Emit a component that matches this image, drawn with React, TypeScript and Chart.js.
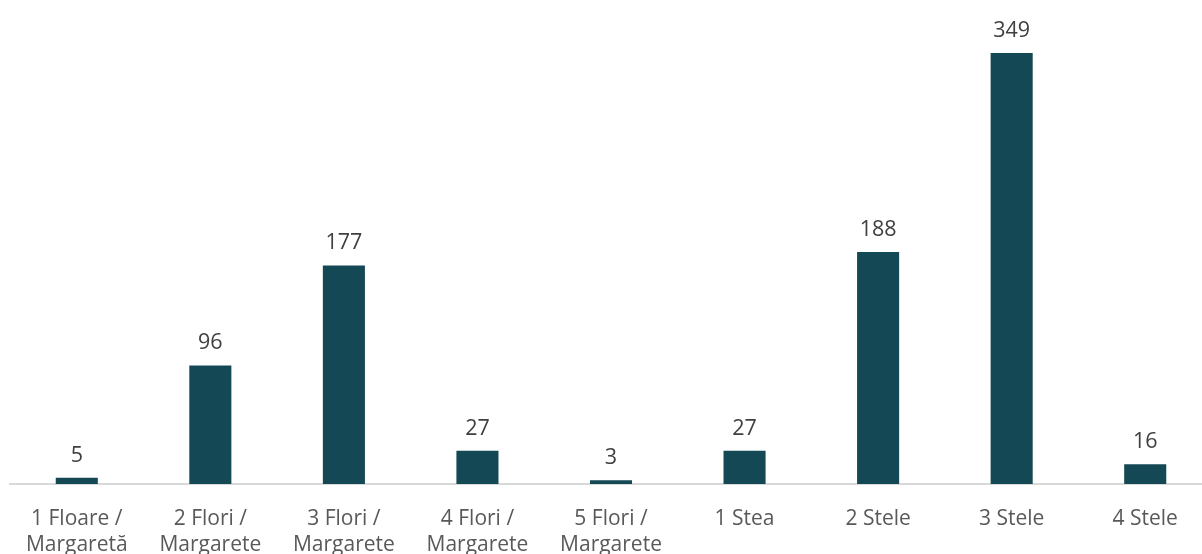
import React, { useEffect, useRef } from "react";
import { Chart, registerables } from "chart.js";

Chart.register(...registerables);

const categories: string[][] = [
  ["1 Floare /", "Margaretă"],
  ["2 Flori /", "Margarete"],
  ["3 Flori /", "Margarete"],
  ["4 Flori /", "Margarete"],
  ["5 Flori /", "Margarete"],
  ["1 Stea"],
  ["2 Stele"],
  ["3 Stele"],
  ["4 Stele"],
];
const values: number[] = [5, 96, 177, 27, 3, 27, 188, 349, 16];

const FONT = "'Open Sans', 'Noto Sans', sans-serif";

const valueLabels = {
  id: "valueLabels",
  afterDatasetsDraw(chart: any) {
    const ctx = chart.ctx;
    const meta = chart.getDatasetMeta(0);
    ctx.save();
    ctx.fillStyle = "#404040";
    ctx.font = `21.5px ${FONT}`;
    ctx.textAlign = "center";
    ctx.textBaseline = "alphabetic";
    meta.data.forEach((bar: any, i: number) => {
      ctx.fillText(String(values[i]), bar.x, bar.y - 16);
    });
    ctx.restore();
  },
};

export default function App() {
  const ref = useRef<HTMLCanvasElement | null>(null);
  useEffect(() => {
    if (!ref.current) return;
    const chart = new Chart(ref.current, {
      type: "bar",
      data: {
        labels: categories,
        datasets: [
          {
            data: values,
            backgroundColor: "#144854",
            borderWidth: 0,
            barPercentage: 0.63,
            categoryPercentage: 0.5,
          },
        ],
      },
      options: {
        animation: false,
        responsive: true,
        maintainAspectRatio: false,
        layout: { padding: { left: 10, right: 0, top: 0, bottom: 0 } },
        plugins: { legend: { display: false }, tooltip: { enabled: false } },
        scales: {
          x: {
            grid: { display: false },
            border: { color: "#d9d9d9", width: 2 },
            ticks: {
              color: "#595959",
              font: { family: FONT, size: 21, lineHeight: 1.24 },
              padding: 14,
              maxRotation: 0,
              autoSkip: false,
            },
            afterFit: (scale: any) => {
              scale.height = 70;
            },
          },
          y: { display: false, min: 0, max: 392 },
        },
      },
      plugins: [valueLabels],
    });
    return () => chart.destroy();
  }, []);
  return (
    <div style={{ position: "fixed", left: 0, top: 0, width: 1202, height: 554, overflow: "hidden", background: "#fff" }}>
      <div style={{ position: "relative", width: 1212, height: 554 }}>
        <canvas ref={ref} />
      </div>
    </div>
  );
}
